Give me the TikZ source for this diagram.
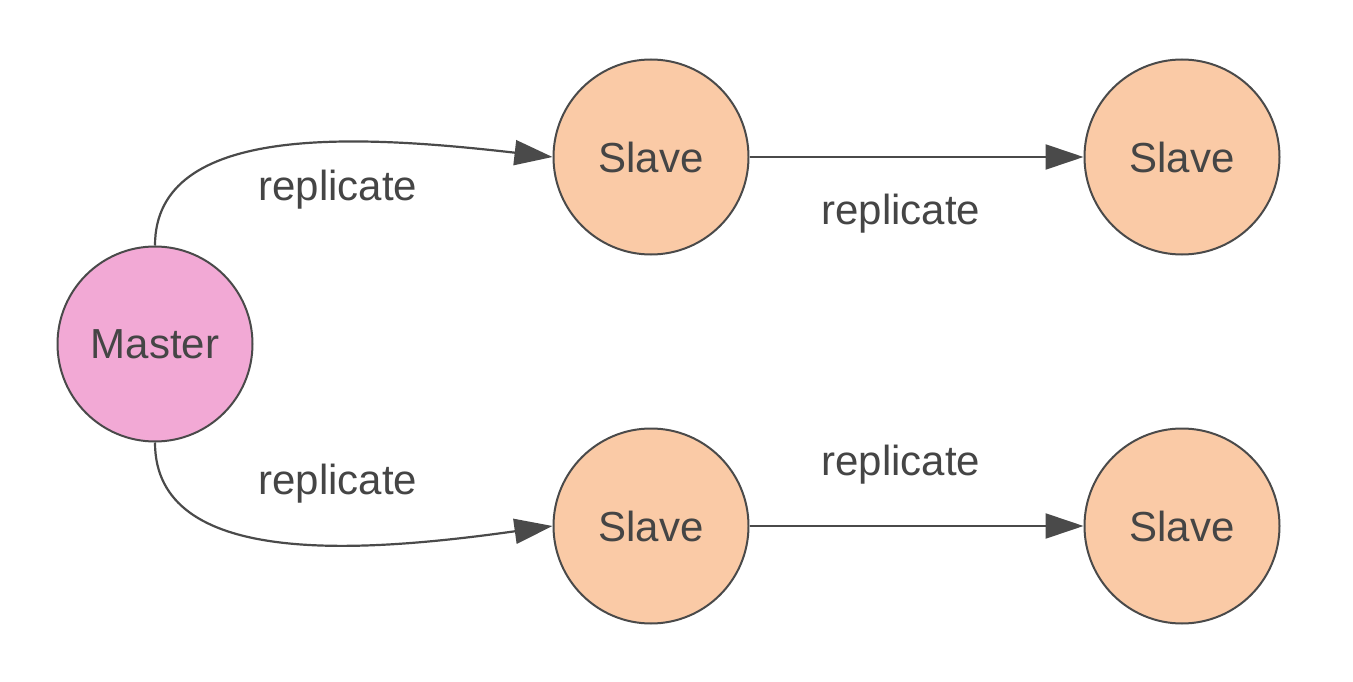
\documentclass[tikz,border=0pt]{standalone}
\usepackage{fontspec}
\setmainfont{Liberation Sans}
\usetikzlibrary{arrows.meta}
\definecolor{masterfill}{HTML}{F2A9D5}
\definecolor{slavefill}{HTML}{FACAA6}
\definecolor{edgec}{HTML}{4A4A4A}
\definecolor{txt}{HTML}{454545}
\tikzset{
  nodebase/.style={circle, draw=edgec, line width=2pt, minimum size=195pt, inner sep=0pt,
    text=txt, font=\fontsize{42}{50}\selectfont},
  masternode/.style={nodebase, fill=masterfill},
  slavenode/.style={nodebase, fill=slavefill},
  conn/.style={draw=edgec, line width=2.2pt, -{Triangle[length=38pt,width=25pt]}},
  lbl/.style={text=txt, font=\fontsize{42}{50}\selectfont, inner sep=0pt}
}
\begin{document}
\begin{tikzpicture}[x=1pt,y=-1pt]
\useasboundingbox (0,0) rectangle (1353,682);
\fill[white] (0,0) rectangle (1353,682);
\node[masternode] (m) at (155,344) {Master};
\node[slavenode] (s1) at (651,157) {Slave};
\node[slavenode] (s2) at (1182,157) {Slave};
\node[slavenode] (s3) at (651,526) {Slave};
\node[slavenode] (s4) at (1182,526) {Slave};
\draw[conn] (m.north) .. controls (155,122) and (360,135) .. (s1.west);
\draw[conn] (m.south) .. controls (155,568) and (360,553) .. (s3.west);
\draw[conn] (s1.east) -- (s2.west);
\draw[conn] (s3.east) -- (s4.west);
\node[lbl] (l1) at (338,190) {replicate};
\node[lbl] (l2) at (901,214) {replicate};
\node[lbl] (l3) at (338,484) {replicate};
\node[lbl] (l4) at (901,465) {replicate};
\end{tikzpicture}
\end{document}
